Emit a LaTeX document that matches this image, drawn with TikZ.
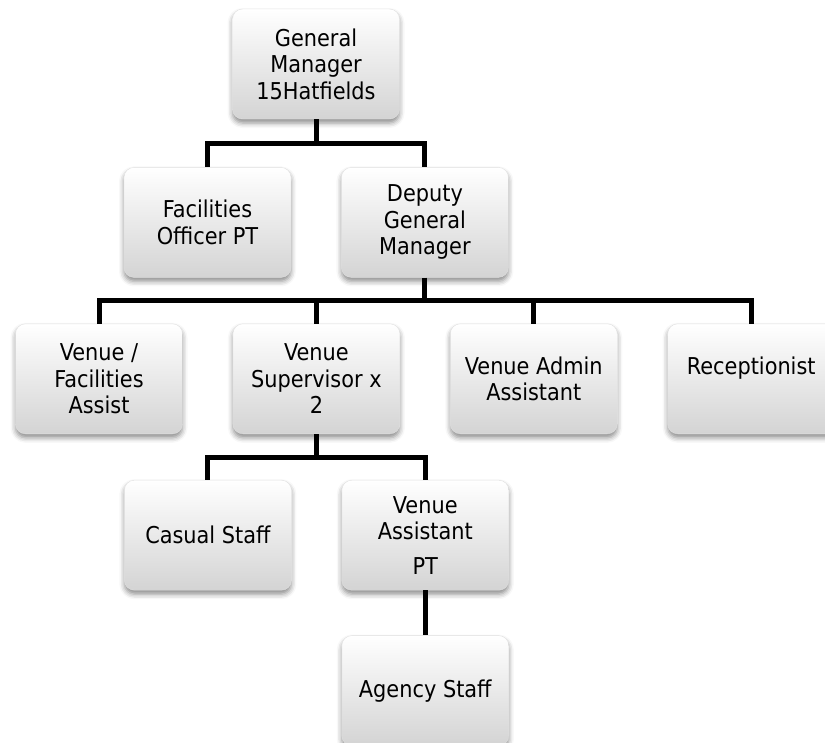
\documentclass[tikz,border=0pt]{standalone}
\usepackage{fontspec}
\setmainfont{DejaVu Sans Condensed}
\usetikzlibrary{positioning, shadows.blur, calc}
\usepackage{xcolor}

\tikzset{
  orgbox/.style={draw=black!12, rounded corners=10pt, top color=white, bottom color=black!17,
    minimum width=167pt, minimum height=110pt, inner sep=0pt, align=center,
    font=\fontsize{23.2}{26.5}\selectfont,
    blur shadow={shadow xshift=0pt, shadow yshift=-4pt, shadow blur radius=5pt, shadow opacity=45}},
  conn/.style={line width=5pt, line join=miter}
}

\begin{document}
\begin{tikzpicture}[x=1pt, y=-1pt]
                \useasboundingbox (0,0) rectangle (825,742);
                \node (gm) [orgbox] at (316,64) {General\\Manager\\15Hatfields};
                \node (fo) [orgbox, below=48pt of gm, xshift=-108.5pt] {Facilities\\Officer PT};
                \node (dgm) [orgbox, right=50pt of fo] {Deputy\\General\\Manager};
                \node (vs) [orgbox, below=46pt of dgm, xshift=-108.5pt] {Venue\\Supervisor x\\2};
                \node (vfa) [orgbox, left=50pt of vs] {Venue /\\Facilities\\Assist};
                \node (vaa) [orgbox, right=50pt of vs] {Venue Admin\\Assistant};
                \node (rec) [orgbox, right=50pt of vaa] {Receptionist\\\mbox{}};
                \node (cs) [orgbox, below=46pt of vs, xshift=-108.5pt] {Casual Staff};
                \node (vap) [orgbox, right=50pt of cs] {Venue\\Assistant\\[8pt]PT};
                \node (as) [orgbox, below=45pt of vap] {Agency Staff};
                \coordinate (b1) at ($(gm.south)!0.5!(gm.south |- fo.north)$);
                \coordinate (b2) at ($(dgm.south)!0.5!(dgm.south |- vs.north)$);
                \coordinate (b3) at ($(vs.south)!0.5!(vs.south |- cs.north)$);
                \draw[conn] (gm.south) -- (b1) -| (fo.north);
                \draw[conn] (b1) -| (dgm.north);
                \draw[conn] (dgm.south) -- (b2) -| (vfa.north);
                \draw[conn] (b2) -| (rec.north);
                \draw[conn] (b2) -| (vs.north);
                \draw[conn] (b2) -| (vaa.north);
                \draw[conn] (vs.south) -- (b3) -| (cs.north);
                \draw[conn] (b3) -| (vap.north);
                \draw[conn] (vap.south) -- (as.north);
            \end{tikzpicture}
\end{document}
